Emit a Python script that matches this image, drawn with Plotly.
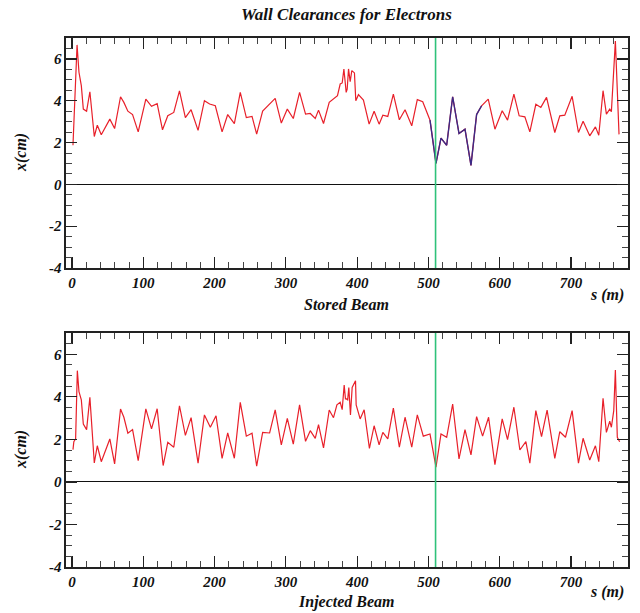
import plotly.graph_objects as go

# ---- data ----
s_stored = [1.3, 7.0, 9.7, 13, 15.8, 20.4, 25, 31.2, 35.4, 41, 53, 59.7, 68, 72.7, 78.3, 84.9, 92.8,
            103.5, 111.5, 119.4, 126.9, 134.3, 142.7, 150.7, 159, 167, 176.8, 185.7, 193, 201, 210.5,
            218.4, 227.7, 236, 244.5, 252.5, 259, 267.4, 285, 293.6, 302, 310.4, 319.2, 327.6, 334.2,
            341.2, 345.8, 352.8, 360.8, 369.2, 372.4, 376.2, 379, 381.4, 382.8, 384.6, 386, 387.9,
            390.2, 392.5, 396.2, 398.1, 401.8, 408.8, 416.8, 423.8, 430.8, 436, 443, 450.8, 459.2,
            467.2, 476.6, 484.4, 492, 502.2, 510.6, 517.6, 525.6, 534, 542.9, 551.3, 559.7, 567.6,
            574.6, 583.9, 593.3, 603.5, 611, 619.9, 627.3, 635.3, 642.3, 650.7, 657.7, 665.7, 677.3,
            684.3, 691.3, 701.6, 710.5, 717, 726.3, 734.3, 739, 745, 749.7, 754.4, 756.7, 762.3, 767.4]
x_stored = [1.87, 6.67, 5.36, 4.72, 3.6, 3.5, 4.43, 2.29, 2.83, 2.37, 3.12, 2.67, 4.19, 3.92, 3.5, 3.34,
            2.51, 4.08, 3.73, 3.86, 2.61, 3.28, 3.44, 4.47, 3.19, 3.57, 2.58, 4.0, 3.84, 3.76, 2.51,
            3.34, 2.91, 4.4, 3.19, 3.25, 2.4, 3.5, 4.11, 2.93, 3.6, 3.15, 4.4, 3.36, 3.39, 3.15, 3.55,
            2.91, 3.92, 4.16, 4.24, 4.8, 4.85, 5.52, 4.91, 4.4, 4.56, 5.52, 4.91, 5.44, 5.33, 4.0, 4.29,
            4.03, 2.88, 3.5, 2.88, 3.31, 3.25, 4.32, 3.09, 3.57, 2.8, 4.05, 3.95, 3.07, 1.0, 2.21, 1.87,
            4.19, 2.43, 2.64, 0.91, 3.34, 3.76, 4.08, 2.64, 3.52, 3.07, 4.32, 3.28, 3.23, 2.51, 3.83,
            3.68, 4.16, 2.48, 3.28, 3.31, 4.21, 2.48, 3.02, 2.32, 2.75, 2.35, 4.48, 3.36, 3.6, 3.47,
            6.85, 2.39]
# highlighted (blue) section of the stored beam curve
blue_start, blue_end = 75, 85

s_injected = [1.3, 2.5, 5, 7.4, 9.7, 13, 15.8, 20.4, 25, 31.2, 35.4, 41, 53, 59.7, 68, 72.7, 78.3, 84.9,
              92.8, 103.5, 111.5, 119.4, 127.8, 134.3, 142.7, 150.7, 159, 167, 176.8, 185.7, 194, 202,
              210.5, 218.4, 227.7, 236, 244.5, 252.5, 259, 267.4, 277.2, 285, 293.6, 302, 310.4, 319.2,
              327.6, 334.2, 341.2, 345.8, 352.8, 360.8, 366.8, 371.6, 376.2, 379, 381.8, 383.6, 385,
              386.7, 388.3, 390.6, 393, 397.7, 398.6, 404.2, 409.8, 417.2, 423.8, 430.8, 436, 443,
              450.8, 459.2, 467.2, 476.6, 484.4, 492.8, 502.2, 510.6, 517.6, 525.6, 534, 542.9, 551.3,
              559.7, 567.6, 576, 584.4, 593.3, 603.5, 611, 619.9, 628.3, 636.7, 642.3, 650.7, 658.7,
              666.5, 677.3, 684.3, 692.3, 701.6, 710.5, 717, 726.3, 734.3, 739, 745, 749.7, 754.4,
              756.7, 760, 762.3, 765, 768.3]
x_injected = [1.52, 1.89, 2.02, 5.23, 4.24, 3.86, 2.72, 2.46, 3.98, 0.89, 1.70, 0.95, 2.02, 0.85, 3.43,
              3.04, 2.29, 2.46, 1.0, 3.43, 2.49, 3.44, 0.77, 1.86, 1.63, 3.58, 2.19, 3.02, 0.88, 3.15,
              2.57, 3.11, 1.11, 2.3, 1.11, 3.74, 2.15, 2.29, 0.74, 2.33, 2.3, 3.39, 1.74, 2.99, 1.78,
              3.62, 1.91, 2.41, 2.05, 2.69, 1.6, 3.38, 3.02, 3.62, 3.74, 3.4, 4.55, 3.9, 3.9, 3.86,
              4.44, 3.15, 4.44, 4.76, 3.62, 2.96, 3.39, 1.58, 2.64, 1.74, 2.33, 2.02, 3.47, 1.63, 3.04,
              1.63, 3.15, 2.15, 2.25, 0.69, 2.25, 2.1, 3.66, 1.08, 2.46, 1.27, 3.07, 2.15, 3.04, 0.81,
              2.96, 1.99, 3.51, 1.5, 1.89, 0.88, 3.35, 2.13, 3.38, 1.11, 2.36, 2.1, 3.35, 0.88, 2.05,
              1.03, 1.7, 0.95, 3.93, 2.33, 2.85, 2.57, 3.35, 5.26, 2.1, 1.89]

y_tickvals = [-4, -2, 0, 2, 4, 6]
y_ticktext = ["-4", "-2", "0", "2", "4", "6"]

marker_s = 510
x_range = [-8.5, 780]
y_range = [-4, 7]

RED = "#e8202a"
BLUE = "#3b2a86"
GREEN = "#2fc27a"
FONT = "Liberation Serif"

fig = go.Figure()
fig.add_trace(go.Scatter(x=s_stored, y=x_stored, mode="lines",
                         line=dict(color=RED, width=1.2), xaxis="x", yaxis="y"))
fig.add_trace(go.Scatter(x=s_stored[blue_start:blue_end], y=x_stored[blue_start:blue_end], mode="lines",
                         line=dict(color=BLUE, width=1.4), xaxis="x", yaxis="y"))
fig.add_trace(go.Scatter(x=s_injected, y=x_injected, mode="lines",
                         line=dict(color=RED, width=1.2), xaxis="x2", yaxis="y2"))

tickfont = dict(family=FONT, size=15, weight="bold", style="italic", color="#111")

def xax(anchor):
    return dict(domain=[66/640, 628/640], range=x_range, anchor=anchor, automargin=False,
                showline=True, mirror="ticks", linecolor="#222", linewidth=1.6,
                ticks="inside", ticklen=11, tickwidth=1.2, tickcolor="#222",
                dtick=100, tick0=0, showgrid=False, zeroline=False,
                tickfont=tickfont,
                minor=dict(dtick=20, tick0=0, ticks="inside", ticklen=6, tickcolor="#444",
                           tickwidth=1, showgrid=False))

def yax(anchor, dom):
    return dict(domain=dom, range=y_range, anchor=anchor, automargin=False,
                showline=True, mirror="ticks", linecolor="#222", linewidth=1.6,
                ticks="inside", ticklen=11, tickwidth=1.2, tickcolor="#222",
                tickmode="array", tickvals=y_tickvals, ticktext=y_ticktext,
                showgrid=False,
                zeroline=True, zerolinecolor="#111", zerolinewidth=1,
                tickfont=tickfont,
                minor=dict(tickmode="linear", dtick=0.5, tick0=0, ticks="inside", ticklen=6,
                           tickcolor="#444", tickwidth=1, showgrid=False))

top_dom = [1 - 268/613, 1 - 38/613]
bot_dom = [1 - 567/613, 1 - 333/613]

ann_font = dict(family=FONT, size=16, weight="bold", style="italic", color="#111")

def paper_y(py):
    return 1 - py/613

def paper_x(px):
    return px/640

annotations = [
    dict(text="Wall Clearances for Electrons", x=paper_x(346), y=paper_y(14),
         font=dict(family=FONT, size=17, weight="bold", style="italic", color="#111")),
    dict(text="x(cm)", x=paper_x(21), y=paper_y(153), textangle=-90, font=ann_font),
    dict(text="x(cm)", x=paper_x(21), y=paper_y(450), textangle=-90, font=ann_font),
    dict(text="s (m)", x=paper_x(607), y=paper_y(295), font=ann_font),
    dict(text="s (m)", x=paper_x(607), y=paper_y(592), font=ann_font),
    dict(text="Stored Beam", x=paper_x(346), y=paper_y(304), font=ann_font),
    dict(text="Injected Beam", x=paper_x(346), y=paper_y(602), font=ann_font),
]
for a in annotations:
    a.update(xref="paper", yref="paper", showarrow=False, xanchor="center", yanchor="middle")

shapes = [
    dict(type="line", xref="x", yref="y domain", x0=marker_s, x1=marker_s, y0=0, y1=1,
         line=dict(color=GREEN, width=1.6)),
    dict(type="line", xref="x2", yref="y2 domain", x0=marker_s, x1=marker_s, y0=0, y1=1,
         line=dict(color=GREEN, width=1.6)),
]

fig.update_layout(
    width=640, height=613,
    margin=dict(l=0, r=0, t=0, b=0, autoexpand=False),
    paper_bgcolor="white", plot_bgcolor="white",
    showlegend=False, hovermode=False,
    xaxis=xax("y"), yaxis=yax("x", top_dom),
    xaxis2=xax("y2"), yaxis2=yax("x2", bot_dom),
    annotations=annotations, shapes=shapes,
)

fig.write_html("out.html", config={"displayModeBar": False, "staticPlot": True},
               post_script="document.body.style.margin='0';document.body.style.overflow='hidden';")
